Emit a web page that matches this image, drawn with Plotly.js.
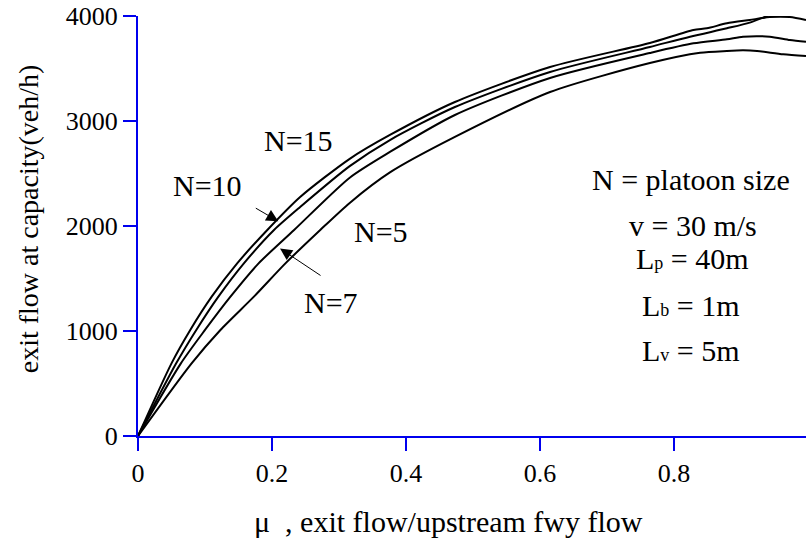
<!DOCTYPE html>
<html>
<head>
<meta charset="utf-8">
<script src="https://cdn.plot.ly/plotly-3.0.1.min.js"></script>
<style>
html,body{margin:0;padding:0;overflow:hidden;background:#fff;}
#chart{width:812px;height:539px;}
</style>
</head>
<body>
<div id="chart"></div>
<script>
// Series (mu, exit flow at capacity veh/h)
const mu_N15 = [0, 0.050, 0.078, 0.110, 0.148, 0.193, 0.242, 0.316, 0.376, 0.473, 0.615, 0.764, 0.829, 0.849, 0.879, 0.913, 0.943, 0.973, 0.997];
const q_N15  = [0, 692, 1010, 1327, 1644, 1962, 2276, 2640, 2867, 3181, 3514, 3743, 3867, 3883, 3930, 3962, 3990, 3990, 3962];

const mu_N10 = [0, 0.057, 0.087, 0.120, 0.158, 0.203, 0.242, 0.316, 0.376, 0.473, 0.615, 0.764, 0.824, 0.879, 0.913, 0.943];
const q_N10  = [0, 692, 1010, 1327, 1644, 1962, 2181, 2570, 2819, 3133, 3467, 3705, 3803, 3883, 3937, 4010];

const mu_N7 = [0, 0.064, 0.100, 0.138, 0.180, 0.233, 0.316, 0.376, 0.473, 0.615, 0.764, 0.829, 0.879, 0.903, 0.943, 0.973, 0.997];
const q_N7  = [0, 692, 1010, 1327, 1644, 1962, 2460, 2705, 3057, 3410, 3648, 3740, 3778, 3803, 3803, 3771, 3755];

const mu_N5 = [0, 0.080, 0.123, 0.173, 0.220, 0.272, 0.316, 0.376, 0.473, 0.615, 0.764, 0.839, 0.879, 0.903, 0.924, 0.963, 0.997];
const q_N5  = [0, 692, 1010, 1327, 1644, 1962, 2220, 2510, 2848, 3276, 3552, 3650, 3667, 3673, 3667, 3635, 3619];

const xTicks = [0, 0.2, 0.4, 0.6, 0.8, 1];
const xTickText = ['0', '0.2', '0.4', '0.6', '0.8', '1'];
const yTicks = [0, 1000, 2000, 3000, 4000];
const yTickText = ['0', '1000', '2000', '3000', '4000'];

const xTitle = '\u03bc\u00a0\u00a0, exit flow/upstream fwy flow';
const yTitle = 'exit flow at capacity(veh/h)';

const FONT = "'Liberation Serif', 'Times New Roman', Times, serif";
const BLUE = '#0000ee';

function line(x, y, name) {
  return {x: x, y: y, name: name, type: 'scatter', mode: 'lines',
    line: {color: '#000', width: 2, shape: 'spline', smoothing: 0.7},
    hoverinfo: 'skip'};
}

const data = [
  line(mu_N15, q_N15, 'N=15'),
  line(mu_N10, q_N10, 'N=10'),
  line(mu_N7, q_N7, 'N=7'),
  line(mu_N5, q_N5, 'N=5')
];

const aFont = {family: FONT, size: 30, color: '#000'};
function txt(x, y, t) {
  return {x: x, y: y, xref: 'x', yref: 'y', text: t, showarrow: false,
    xanchor: 'center', yanchor: 'middle', font: aFont};
}
const sub = s => '<span style="font-size:18px">' + s + '</span>';

const annotations = [
  txt(0.2388, 2812, 'N=15'),
  txt(0.103, 2388, 'N=10'),
  txt(0.3627, 1946, 'N=5'),
  txt(0.288, 1275, 'N=7'),
  txt(0.8254, 2445, 'N = platoon size'),
  txt(0.828, 2008, 'v = 30 m/s'),
  txt(0.827, 1694, 'L' + sub('p') + ' = 40m'),
  txt(0.825, 1246, 'L' + sub('b') + ' = 1m'),
  txt(0.825, 818, 'L' + sub('v') + ' = 5m'),
  {x: 0.2094, y: 2045, xref: 'x', yref: 'y', text: '', showarrow: true,
   ax: -24, ay: -14, arrowhead: 2, arrowsize: 2.4, arrowwidth: 1, arrowcolor: '#000'},
  {x: 0.212, y: 1786, xref: 'x', yref: 'y', text: '', showarrow: true,
   ax: 42, ay: 28, arrowhead: 2, arrowsize: 2.4, arrowwidth: 1, arrowcolor: '#000'},
  // axis titles
  {xref: 'paper', yref: 'paper', x: 0.4627, y: -0.2045, text: xTitle, showarrow: false,
   xanchor: 'center', yanchor: 'middle', font: {family: FONT, size: 30, color: '#000'}},
  {xref: 'paper', yref: 'paper', x: -0.1642, y: 0.5184, text: yTitle, showarrow: false,
   textangle: -90, xanchor: 'center', yanchor: 'middle', font: {family: FONT, size: 28, color: '#000'}}
];

const layout = {
  width: 812, height: 539,
  margin: {l: 138, r: 4, t: 15.5, b: 103},
  paper_bgcolor: '#fff', plot_bgcolor: '#fff',
  showlegend: false,
  font: {family: FONT, color: '#000'},
  xaxis: {
    range: [0, 1], tickvals: xTicks, ticktext: xTickText,
    showgrid: false, zeroline: false,
    showline: true, linecolor: BLUE, linewidth: 2,
    ticks: 'outside', ticklen: 13, tickwidth: 2, tickcolor: BLUE,
    tickfont: {family: FONT, size: 26, color: '#000'}
  },
  yaxis: {
    range: [0, 4000], tickvals: yTicks, ticktext: yTickText,
    showgrid: false, zeroline: false,
    showline: true, linecolor: BLUE, linewidth: 2,
    ticks: 'outside', ticklen: 13, tickwidth: 2, tickcolor: BLUE,
    tickfont: {family: FONT, size: 26, color: '#000'}
  },
  annotations: annotations
};

Plotly.newPlot('chart', data, layout, {staticPlot: true, displayModeBar: false});
</script>
</body>
</html>
